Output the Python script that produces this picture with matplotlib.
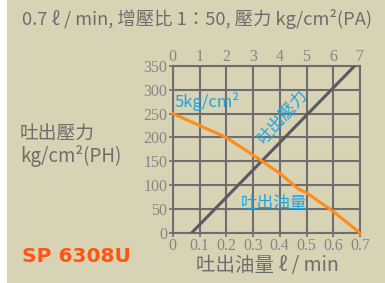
import matplotlib.pyplot as plt
from matplotlib.patches import Rectangle

# data
flow = [0.07, 0.68]
pressure = [0, 350]
oil_x = [0.0, 0.1, 0.2, 0.3, 0.4, 0.47, 0.5, 0.6, 0.7]
oil_y = [250, 225, 200, 163, 125, 92, 84, 45, 0]
x_ticks = [0, 0.1, 0.2, 0.3, 0.4, 0.5, 0.6, 0.7]
x_labels = ['0', '0.1', '0.2', '0.3', '0.4', '0.5', '0.6', '0.7']
top_labels = ['0', '1', '2', '3', '4', '5', '6', '7']
y_ticks = [0, 50, 100, 150, 200, 250, 300, 350]

BG = '#d9d3b5'
GRID = '#6e6e70'
TXT = '#6d6d6d'
TICK = '#858585'
BLUE = '#1fa3e0'
ORANGE = '#ff8c1a'
FONTS = ['Noto Sans CJK TC', 'DejaVu Sans']

fig = plt.figure(figsize=(3.85, 2.83), dpi=100, facecolor=BG)
fig.patches.append(Rectangle((0, 0), 7 / 385, 1, transform=fig.transFigure,
                             facecolor='white', edgecolor='none', zorder=0))

ax = fig.add_axes([0.449, 0.177, 0.486, 0.590])
ax.set_facecolor(BG)
ax.set_xlim(0, 0.7)
ax.set_ylim(0, 350)
ax.set_xticks(x_ticks)
ax.set_xticklabels(x_labels)
ax.set_yticks(y_ticks)
ax.grid(True, color=GRID, lw=1.5)
for s in ax.spines.values():
    s.set_color(GRID)
    s.set_linewidth(1.5)
ax.tick_params(colors=GRID, labelcolor=TICK, length=3, width=1.2, pad=1)
for lab in ax.get_xticklabels() + ax.get_yticklabels():
    lab.set_family('Liberation Serif')
    lab.set_fontsize(11.5)

top = ax.twiny()
top.set_xlim(0, 0.7)
top.set_xticks(x_ticks)
top.set_xticklabels(top_labels, family='Liberation Serif', fontsize=11.5, color=TICK)
top.tick_params(length=0, pad=1)
for s in top.spines.values():
    s.set_visible(False)

ax.plot(flow, pressure, color='#5a5a60', lw=2.2, zorder=3)
ax.plot(oil_x, oil_y, color=ORANGE, lw=2.2, zorder=3, clip_on=False)

ax.text(0.005, 275, '5kg/cm²', color=BLUE, fontsize=12, family=FONTS, va='center')
ax.text(0.41, 244, '吐出壓力', color=BLUE, fontsize=12, family=FONTS,
        rotation=48, ha='center', va='center')
ax.text(0.38, 62, '吐出油量', color=BLUE, fontsize=12, family=FONTS,
        ha='center', va='center')

fig.text(22 / 385, 1 - 19 / 283, '0.7 ℓ / min, 增壓比 1：50, 壓力 kg/cm²(PA)',
         color=TXT, fontsize=13.2, family=FONTS, va='center')
fig.text(20 / 385, 1 - 133 / 283, '吐出壓力', color=TXT, fontsize=13.5,
         family=FONTS, va='center')
fig.text(20 / 385, 1 - 156 / 283, 'kg/cm²(PH)', color=TXT, fontsize=13.5,
         family=FONTS, va='center')
fig.text(22 / 385, 1 - 257 / 283, 'SP 6308U', color='#ff5511', fontsize=14.5,
         fontweight='bold', family='DejaVu Sans', va='center')
fig.text(267 / 385, 1 - 265 / 283, '吐出油量 ℓ / min', color=TXT, fontsize=14,
         family=FONTS, ha='center', va='center')

fig.savefig('out.png', dpi=100, facecolor=BG)
